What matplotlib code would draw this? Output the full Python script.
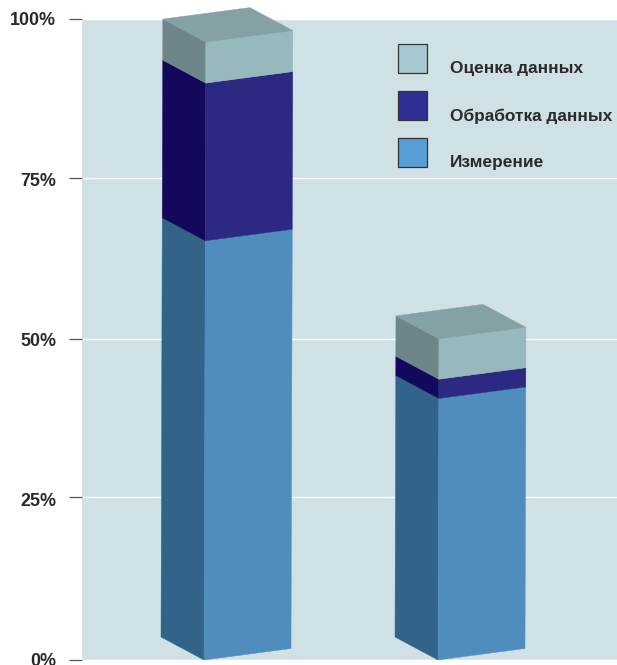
"""
Stacked pseudo-3D columns: share of time per measurement stage.

Output:
- out.png
"""

import matplotlib
matplotlib.use("Agg")
import matplotlib.pyplot as plt
from matplotlib.patches import Polygon, Rectangle


# values in percent, read at the front edge of each column
MEASURE = [65.4, 40.8]
PROCESS = [24.6, 3.0]
EVALUATE = [6.4, 6.3]
SERIES_LABELS = ["Оценка данных", "Обработка данных", "Измерение"]
Y_LABEL_POS = [0, 25, 50, 75, 100]
Y_TICK_LABELS = ["0%", "25%", "50%", "75%", "100%"]
# the drawn rules sit slightly off the regular spacing in the source
Y_RULES = [0, 25.4, 50, 75.2, 100]

W, H = 617, 665
LEFT, RIGHT = 82, 617
TOP, BOTTOM = 19, 660
PX_PER_PCT = (BOTTOM - TOP) / 100

FRONT_X0 = 122  # front corner of first column, px from plot edge
FRONT_STEP = 234
BAR_W = 87
DEPTH_X = 43
DEPTH_Y = 23 / PX_PER_PCT
RISE = 11.5 / PX_PER_PCT
SHEAR = 0.0192

# front face, side face
C_MEASURE = ("#4E8DBE", "#316488")
C_PROCESS = ("#2C2983", "#12095C")
C_EVALUATE = ("#97B8BC", "#6E868A")
C_TOP = "#84A1A5"
LEGEND_COLORS = ["#A6C9CF", "#2E2E94", "#579FD6"]
LEGEND_Y = [44, 91, 137.5]
LEGEND_BASE_Y = [73.3, 120.5, 167]


def corners(i, v):
    """Front, right and left points of a column at level v."""
    x = FRONT_X0 + FRONT_STEP * i + SHEAR * v
    front = (x, v)
    right = (x + BAR_W, v + RISE)
    left = (x - DEPTH_X, v + DEPTH_Y)
    back = (x + BAR_W - DEPTH_X, v + RISE + DEPTH_Y)
    return front, right, left, back


def face(ax, pts, color):
    ax.add_patch(Polygon(pts, closed=True, facecolor=color, edgecolor=color,
                         linewidth=0.3, clip_on=False, zorder=3))


def draw_column(ax, i):
    base = 0
    for vals, (c_front, c_side) in zip((MEASURE, PROCESS, EVALUATE), (C_MEASURE, C_PROCESS, C_EVALUATE)):
        top = base + vals[i]
        f0, r0, l0, _ = corners(i, base)
        f1, r1, l1, _ = corners(i, top)
        face(ax, [l0, f0, f1, l1], c_side)
        face(ax, [f0, r0, r1, f1], c_front)
        base = top
    f, r, l, b = corners(i, base)
    face(ax, [l, f, r, b], C_TOP)


def main():
    fig = plt.figure(figsize=(W / 100, H / 100), dpi=100)
    ax = fig.add_axes([LEFT / W, 1 - BOTTOM / H, (RIGHT - LEFT) / W, (BOTTOM - TOP) / H])
    ax.set_facecolor("#CFE1E5")
    ax.set_xlim(0, RIGHT - LEFT)
    ax.set_ylim(0, 100)
    for s in ax.spines.values():
        s.set_visible(False)

    ax.set_xticks([])
    ax.set_yticks(Y_RULES)
    ax.set_yticklabels([])
    ax.tick_params(axis="y", length=9.4, width=0.9, color="#555555")
    ax.grid(axis="y", color="white", linewidth=1)
    ax.set_axisbelow(True)

    for pos, label in zip(Y_LABEL_POS, Y_TICK_LABELS):
        ax.text(-26, pos, label, family="Liberation Sans", fontweight="bold", fontsize=12.9,
                color="#2A2A2A", ha="right", va="center_baseline", clip_on=False)

    for i in range(len(MEASURE)):
        draw_column(ax, i)

    # legend in pixel coordinates of the figure
    for name, color, y, by in zip(SERIES_LABELS, LEGEND_COLORS, LEGEND_Y, LEGEND_BASE_Y):
        fig.add_artist(Rectangle((397.5 / W, 1 - (y + 29) / H), 29.5 / W, 29 / H,
                                 transform=fig.transFigure, facecolor=color,
                                 edgecolor="#333333", linewidth=0.9, zorder=5))
        fig.text(449.5 / W, 1 - by / H, name, family="Liberation Sans", fontweight="bold",
                 fontsize=12.45, color="#2A2A2A", va="baseline", ha="left", zorder=5)

    fig.savefig("out.png", dpi=100)


if __name__ == "__main__":
    main()
